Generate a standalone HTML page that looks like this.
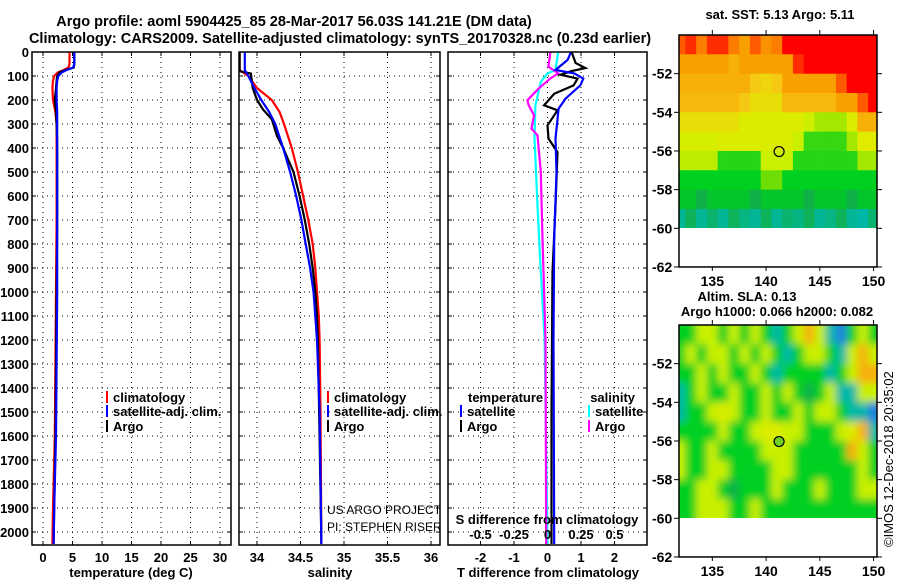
<!DOCTYPE html>
<html><head><meta charset="utf-8"><style>
html,body{margin:0;padding:0;background:#fff}
svg{display:block;font-family:"Liberation Sans",sans-serif}
</style></head><body>
<svg id="chart" width="900" height="580" viewBox="0 0 900 580" xmlns="http://www.w3.org/2000/svg">
<defs>
<clipPath id="cp1"><rect x="32" y="52" width="199" height="493"/></clipPath>
<clipPath id="cp2"><rect x="239" y="52" width="201" height="493"/></clipPath>
<clipPath id="cp3"><rect x="448" y="52" width="199" height="493"/></clipPath>
<clipPath id="cpm1"><rect x="679" y="35" width="198" height="193"/></clipPath>
<clipPath id="cpm2"><rect x="679" y="325" width="198" height="193"/></clipPath>
<filter id="blur" filterUnits="userSpaceOnUse" x="660" y="300" width="240" height="240"><feGaussianBlur stdDeviation="4"/></filter>
</defs>
<text font-weight="bold" x="294" y="26" font-size="14.5" text-anchor="middle">Argo profile: aoml 5904425_85 28-Mar-2017 56.03S 141.21E (DM data)</text>
<text font-weight="bold" x="340" y="43" font-size="14.5" text-anchor="middle">Climatology: CARS2009. Satellite-adjusted climatology: synTS_20170328.nc (0.23d earlier)</text>
<g id="g"></g>
</svg>
<script>
// ---- data ----
const depthTicks=[0,100,200,300,400,500,600,700,800,900,1000,1100,1200,1300,1400,1500,1600,1700,1800,1900,2000];
const tempTicks=[0,5,10,15,20,25,30];
const salTicks=[34,34.5,35,35.5,36];
const salTickLabels=["34","34.5","35","35.5","36"];
const tdiffTicks=[-2,-1,0,1,2];
const sdiffTicks=[-0.5,-0.25,0,0.25,0.5];
const sdiffTickLabels=["-0.5","-0.25","0","0.25","0.5"];

const tDepth=[0,20,50,65,75,85,100,120,150,200,250,300,400,500,700,1000,1300,1600,1900,2050];
const tClim=[4.5,4.5,4.5,4.3,3.5,2.5,1.9,1.7,1.6,1.7,2.1,2.3,2.3,2.3,2.3,2.2,2.1,2.0,1.7,1.6];
const tSat=[5.3,5.3,5.3,5.1,4.0,3.2,2.6,2.4,2.3,2.3,2.4,2.4,2.4,2.4,2.4,2.4,2.3,2.2,1.9,1.8];
const tArgo=[5.3,5.3,5.3,5.2,3.8,2.8,2.4,2.3,2.2,2.0,2.2,2.3,2.4,2.4,2.4,2.3,2.2,2.1,1.9,1.8];

const sDepth=[0,75,100,150,200,250,300,400,500,600,700,800,900,1000,1100,1200,1500,2050];
const sClim=[33.80,33.80,33.90,34.0,34.17,34.26,34.31,34.40,34.47,34.53,34.59,34.64,34.67,34.69,34.71,34.72,34.73,34.74];
const sSat=[33.86,33.86,33.90,33.97,34.05,34.14,34.21,34.30,34.38,34.45,34.51,34.56,34.61,34.65,34.67,34.69,34.72,34.74];
const aDepth=[0,80,90,150,200,240,280,350,400,500,600,700,800,900,1000,1100,1200,2050];
const sArgo=[33.80,33.80,33.93,33.95,34.0,34.07,34.17,34.23,34.30,34.42,34.49,34.55,34.60,34.64,34.67,34.69,34.70,34.74];

const dtArgoDepth=[0,46,67,80,95,111,139,174,222,243,306,361,417,639,917,1500,2050];
const dtArgo=[0.72,0.84,1.13,0.7,0.39,0.9,0.78,0.2,-0.1,0.3,0,0.03,0.3,0.24,0.15,0.12,0.12];
const dtSatDepth=[0,33,75,89,111,139,194,236,361,500,778,1194,2050];
const dtSat=[0.7,0.6,0.24,0.8,1.07,0.98,0.54,0.33,0.24,0.27,0.2,0.18,0.2];
const dsArgoDepth=[0,61,89,111,153,201,222,264,319,347,500,778,1194,2050];
const dsArgo=[0.022,0.007,0.08,0.02,-0.067,-0.15,-0.14,-0.10,-0.12,-0.075,-0.05,-0.037,-0.015,-0.01];
const dsSatDepth=[0,75,89,125,222,361,639,917,1194,2050];
const dsSat=[0.08,0.06,0,-0.05,-0.09,-0.097,-0.075,-0.05,-0.022,0.0];

const mapLons=[132,133,134,135,136,137,138,139,140,141,142,143,144,145,146,147,148,149,150];
const mapLats=[-50,-51,-52,-53,-54,-55,-56,-57,-58,-59];
const lonTicks=[135,140,145,150];
const latTicks=[-52,-54,-56,-58,-60,-62];
const sstGrid=[
[8,8.5,7.5,8.5,8.5,7.5,7,8,7.2,7.5,9,9,9,9,9,9,9,9,9],
[7,7,7,7,7,6.8,7,7,7,7,7,8.5,9,9,9,9,9,9,9],
[6.8,6.8,6.8,6.8,6.8,6.8,6.8,6.5,6.3,6.5,7,7,7,7,7,8,9,9,9],
[6.7,6.7,6.7,6.7,6.7,6.7,6.5,6.2,6.2,6.2,6.7,6.7,6.7,6.7,6.7,7,7,8,9],
[6.2,6.2,6.2,6.2,6.2,6.2,5.9,5.9,5.9,5.9,5.9,5.9,5.7,5.3,5.3,5.3,5.9,6.8,6.8],
[5.8,5.8,5.8,5.8,5.9,5.9,5.9,5.9,5.9,5.9,5.9,5.6,4.6,4.6,4.6,4.6,5.3,6,6],
[5.5,5.5,5.5,5.5,4.5,4.5,4.5,4.5,5.6,5.6,5.6,4.5,4.5,4.5,4.5,4.5,4.5,5.3,5.3],
[4.3,4.3,4.3,4.3,4.3,4.3,4.3,4.3,4.9,4.9,4.3,4.3,4.3,4.3,4.3,4.3,4.3,4.3,4.3],
[4.2,4.2,4.0,4.2,4.2,4.2,4.2,4.0,4.2,4.2,4.2,4.2,4.0,4.2,4.2,4.2,4.0,4.2,4.2],
[3.6,3.9,3.6,3.8,3.6,3.9,3.7,3.6,3.9,3.6,3.8,3.7,3.9,3.6,3.7,3.9,3.6,3.5,3.8]];
const slaGrid=[
[4.3,4.3,5.6,5.6,4.3,5.6,4.3,5.6,4.3,3.5,4.3,5.6,6.8,5.6,3.5,3.0,4.3,5.6,4.3],
[4.3,5.6,4.3,5.6,5.6,4.3,5.6,4.3,5.6,4.3,3.5,4.3,5.6,5.6,4.3,3.5,5.6,6.8,5.6],
[4.3,4.3,5.6,4.3,5.6,4.3,4.3,5.6,4.3,3.5,4.3,4.3,4.3,4.3,3.5,4.3,5.6,6.8,6.8],
[3.5,4.3,5.6,4.3,4.3,5.6,4.3,4.3,5.6,4.3,5.6,4.3,4.0,4.3,5.6,3.5,3.5,5.6,5.6],
[3.5,4.3,4.3,5.6,5.9,5.6,4.3,4.3,5.6,4.3,4.3,5.6,4.3,5.6,5.6,4.3,3.5,3.5,3.0],
[4.3,4.3,4.3,4.3,5.6,4.3,4.3,5.6,5.9,5.9,5.6,5.6,4.3,4.3,4.3,5.6,5.9,6.8,3.5],
[5.6,4.3,4.3,5.6,4.3,4.3,4.3,4.3,5.6,5.6,5.6,4.3,4.3,4.3,4.3,4.3,6.8,5.6,4.3],
[5.6,4.3,4.3,5.6,5.6,4.3,4.3,4.3,4.3,5.6,5.6,4.3,4.3,4.3,4.3,4.3,4.3,5.6,4.3],
[4.3,4.3,5.6,5.6,4.3,4.0,4.3,4.3,4.3,5.6,4.3,4.3,4.3,5.6,4.3,4.3,4.3,5.6,5.6],
[4.3,4.3,5.6,5.6,5.6,4.3,4.3,5.6,4.3,4.3,4.3,4.3,4.3,4.3,4.3,4.3,4.3,4.3,4.3]];
const floatLon=141.21, floatLat=-56.03;

// ---- helpers ----
const NS="http://www.w3.org/2000/svg";
const G=document.getElementById('g');
function mk(tag,attrs,parent){const e=document.createElementNS(NS,tag);for(const k in attrs)e.setAttribute(k,attrs[k]);(parent||G).appendChild(e);return e;}
function txt(x,y,s,size,anchor,bold,parent){const t=mk('text',{x:x,y:y,'font-size':size,'text-anchor':anchor||'start'},parent);if(bold)t.setAttribute('font-weight','bold');t.textContent=s;return t;}
const Y0=52,YB=545;
const yD=d=>Y0+d*0.24;
const xT=v=>43+v*5.9;
const xS=v=>257+(v-34)*87;
const xDT=v=>547.5+v*33.5;
const xDS=v=>547.5+v*134;
const panels=[[32,231,'temperature-panel'],[239,440,'salinity-panel'],[448,647,'difference-panel']];

depthTicks.forEach(d=>{const t=txt(29,yD(d)+5,String(d),13,'end',true);

});

panels.forEach(p=>{
  const [l,r]=p;
  depthTicks.forEach(d=>{if(d===0)return;const ln=mk('line',{x1:l,x2:r,y1:yD(d),y2:yD(d),stroke:'#000','stroke-width':1,'stroke-dasharray':'1,4'});
  
  
  mk('line',{x1:l,x2:l+4,y1:yD(d),y2:yD(d),stroke:'#000'});
  mk('line',{x1:r-4,x2:r,y1:yD(d),y2:yD(d),stroke:'#000'});});
});
function vgrid(xs,l,r){xs.forEach(x=>{if(x<=l+1||x>=r-1)return;const ln=mk('line',{x1:x,x2:x,y1:Y0,y2:YB,stroke:'#000','stroke-width':1,'stroke-dasharray':'1,4'});


mk('line',{x1:x,x2:x,y1:YB-4,y2:YB,stroke:'#000'});mk('line',{x1:x,x2:x,y1:Y0,y2:Y0+4,stroke:'#000'});});}
vgrid(tempTicks.map(xT),32,231);
vgrid(salTicks.map(xS),239,440);
vgrid(tdiffTicks.map(xDT),448,647);

function series(xf,xs,ds,color,clip,name){
  const pts=xs.map((v,i)=>xf(v).toFixed(1)+','+yD(ds[i]).toFixed(1)).join(' ');
  const pl=mk('polyline',{points:pts,fill:'none',stroke:color,'stroke-width':2.2,'clip-path':'url(#'+clip+')'});
  
  
}
series(xT,tClim,tDepth,'#ff0000','cp1','temp-climatology-line');
series(xT,tArgo,tDepth,'#000','cp1','temp-argo-line');
series(xT,tSat,tDepth,'#0000ff','cp1','temp-satellite-line');
series(xS,sClim,sDepth,'#ff0000','cp2','sal-climatology-line');
series(xS,sArgo,aDepth,'#000','cp2','sal-argo-line');
series(xS,sSat,sDepth,'#0000ff','cp2','sal-satellite-line');
series(xDS,dsSat,dsSatDepth,'#00ffff','cp3','sdiff-satellite-line');
series(xDS,dsArgo,dsArgoDepth,'#ff00ff','cp3','sdiff-argo-line');
series(xDT,dtArgo,dtArgoDepth,'#000','cp3','tdiff-argo-line');
series(xDT,dtSat,dtSatDepth,'#0000ff','cp3','tdiff-satellite-line');

panels.forEach(p=>{const r=mk('rect',{x:p[0],y:Y0,width:p[1]-p[0],height:YB-Y0,fill:'none',stroke:'#000','stroke-width':1.5});

});

tempTicks.forEach(v=>{const t=txt(xT(v),562,String(v),13,'middle',true);});
salTicks.forEach((v,i)=>{const t=txt(xS(v),562,salTickLabels[i],13,'middle',true);});
tdiffTicks.forEach(v=>{const t=txt(xDT(v),562,String(v),13,'middle',true);});
sdiffTicks.forEach((v,i)=>{const t=txt(xDS(v),539,sdiffTickLabels[i],13,'middle',true);});
[['temperature (deg C)',131,'x-axis-title-temperature'],['salinity',330,'x-axis-title-salinity'],['T difference from climatology',548,'x-axis-title-tdiff']].forEach(a=>{const t=txt(a[1],577,a[0],13,'middle',true);});
{const t=txt(547,524,'S difference from climatology',13,'middle',true);}

function leg(x,y,color,label,name){const g=mk('g',{});
mk('line',{x1:x,x2:x,y1:y-11,y2:y+1,stroke:color,'stroke-width':2},g);txt(x+6,y,label,13,'start',true,g);}
leg(107,402,'#ff0000','climatology','legend-entry-climatology');
leg(107,416,'#0000ff','satellite-adj. clim.','legend-entry-satellite');
leg(107,431,'#000','Argo','legend-entry-argo');
leg(328,402,'#ff0000','climatology','legend-entry-climatology');
leg(328,416,'#0000ff','satellite-adj. clim.','legend-entry-satellite');
leg(328,431,'#000','Argo','legend-entry-argo');
{const t=txt(468,402,'temperature',13,'start',true);}
{const t=txt(635,402,'salinity',13,'end',true);}
leg(461,416,'#0000ff','satellite','legend-entry-t-satellite');
leg(461,431,'#000','Argo','legend-entry-t-argo');
leg(589,416,'#00ffff','satellite','legend-entry-s-satellite');
leg(589,431,'#ff00ff','Argo','legend-entry-s-argo');
{const g=mk('g',{'clip-path':'url(#cp2)'});
txt(327,514,'US ARGO PROJECT',12,'start',false,g);txt(327,531,'PI: STEPHEN RISER',12,'start',false,g);}

const stops=[[3.0,[32,128,224]],[3.5,[0,184,168]],[4.0,[16,176,72]],[4.3,[0,208,32]],[5.0,[128,224,0]],[5.6,[200,240,0]],[6.0,[225,235,0]],[6.5,[245,200,20]],[7.0,[248,160,0]],[8.0,[255,90,0]],[9.0,[255,0,0]]];
function cmap(v){if(v<=stops[0][0])return 'rgb('+stops[0][1]+')';for(let i=1;i<stops.length;i++){if(v<=stops[i][0]){const a=stops[i-1],b=stops[i],t=(v-a[0])/(b[0]-a[0]);return 'rgb('+a[1].map((c,k)=>Math.round(c+(b[1][k]-c)*t)).join(',')+')';}}return 'rgb(255,0,0)';}

function drawMap(top,grid,clip,blur,name,circleFill){
  const lonX=lo=>679+(lo-131.9)*10.75;
  const latY=la=>top+(-50-la)*19.33;
  const mg=mk('g',{});
  const cg=mk('g',{'clip-path':'url(#'+clip+')'},mg);
  const hg=mk('g',blur?{filter:'url(#blur)'}:{},cg);
  const pad=blur?2:0;
  grid.forEach((row,r)=>row.forEach((v,c)=>{
    let x0=lonX(mapLons[c]-0.5),x1=lonX(mapLons[c]+0.5),y0=latY(mapLats[r]),y1=latY(mapLats[r]-1);
    if(blur){if(c===0)x0-=15;if(c===row.length-1)x1+=15;if(r===0)y0-=15;if(r===grid.length-1)y1+=15;}
    const cell=mk('rect',{x:x0.toFixed(1),y:y0.toFixed(1),width:(x1-x0+0.6).toFixed(1),height:(y1-y0+0.6).toFixed(1),fill:cmap(v)},hg);
    
    
  }));
  const c=mk('circle',{cx:lonX(floatLon),cy:latY(floatLat),r:5,fill:circleFill,stroke:'#000','stroke-width':1.2},mg);
  
  
  mk('rect',{x:679,y:top,width:198,height:latY(-62)-top,fill:'none',stroke:'#000','stroke-width':1.5},mg);
  lonTicks.forEach(lo=>{mk('line',{x1:lonX(lo),x2:lonX(lo),y1:top-5,y2:top,stroke:'#000'},mg);mk('line',{x1:lonX(lo),x2:lonX(lo),y1:latY(-62),y2:latY(-62)+4,stroke:'#000'},mg);
    const t=txt(lonX(lo),latY(-62)+19,String(lo),14,'middle',true,mg);});
  latTicks.forEach(la=>{mk('line',{x1:877,x2:882,y1:latY(la),y2:latY(la),stroke:'#000'},mg);mk('line',{x1:674,x2:679,y1:latY(la),y2:latY(la),stroke:'#000'},mg);
    const t=txt(652,latY(la)+5,String(la),14,'start',true,mg);});
}
drawMap(35,sstGrid,'cpm1',false,'sst-map','none');
drawMap(325,slaGrid,'cpm2',true,'sla-map','#70d020');
{const t=txt(780,19,'sat. SST: 5.13 Argo: 5.11',13,'middle',true);}
{const t=txt(747,301,'Altim. SLA: 0.13',13,'middle',true);}
{const t=txt(777,316,'Argo h1000: 0.066 h2000: 0.082',13,'middle',true);}
{const t=txt(0,0,'©IMOS 12-Dec-2018 20:35:02',13,'start',false);t.setAttribute('transform','translate(893,547) rotate(-90)');}
</script>
</body></html>
